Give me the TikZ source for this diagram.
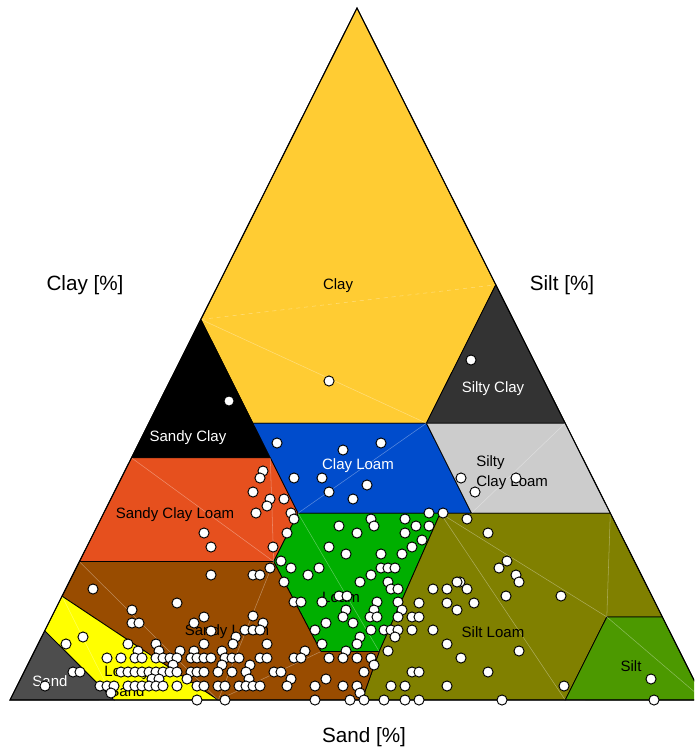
\documentclass[tikz,border=0pt]{standalone}
\usepackage{fontspec}
\setmainfont{Liberation Sans}
\usepackage{tikz}
\usetikzlibrary{positioning}

\definecolor{cClay}{RGB}{255,204,51}
\definecolor{cSiC}{RGB}{51,51,51}
\definecolor{cSC}{RGB}{0,0,0}
\definecolor{cCL}{RGB}{0,76,204}
\definecolor{cSiCL}{RGB}{204,204,204}
\definecolor{cSCL}{RGB}{230,80,30}
\definecolor{cL}{RGB}{0,175,0}
\definecolor{cSiL}{RGB}{128,128,0}
\definecolor{cSL}{RGB}{153,76,0}
\definecolor{cLS}{RGB}{255,255,0}
\definecolor{cS}{RGB}{77,77,77}
\definecolor{cSi}{RGB}{76,153,0}

\tikzset{
  zone/.style={draw=black, line width=0.6pt},
  seam/.style={draw=white, opacity=0.35, line width=0.4pt},
  lbl/.style={font=\fontsize{11.25}{15}\selectfont, inner sep=0pt},
  axislbl/.style={font=\fontsize{15.5}{18}\selectfont, inner sep=0pt},
  obs/.style={draw=black, fill=white, line width=0.7pt}
}

\begin{document}
\begin{tikzpicture}[x=0.75pt, y=-0.75pt]
\clip (0,0) rectangle (694,753);
\coordinate (Sa) at (10,700);
\coordinate (Si) at (704,700);
\coordinate (Cl) at (357,8);
\foreach \n/\a/\b/\c in {B/45/0/55, C/0/40/60, D/45/15/40, E/20/40/40, F/0/60/40,
    G/65/0/35, H/45/20/35, I/45/28/27, J/20/53/27, K/0/73/27, L/80/0/20, M/52/28/20,
    N/51.7/41.3/7, O/43.3/49.7/7, P/24.5/48.5/27, Q/0/88/12, R/8/80/12, S/20/80/0,
    T/49.3/50.7/0, U/70/30/0, V/85/0/15, W/85/15/0, X/90/0/10}
  \coordinate (\n) at (barycentric cs:Sa=\a/100,Si=\b/100,Cl=\c/100);

\filldraw[zone, fill=cClay] (Cl) -- (B) -- (D) -- (E) -- (C) -- cycle;
\filldraw[zone, fill=cSiC] (C) -- (E) -- (F) -- cycle;
\filldraw[zone, fill=cSC] (B) -- (G) -- (H) -- (D) -- cycle;
\filldraw[zone, fill=cCL] (D) -- (H) -- (I) -- (J) -- (E) -- cycle;
\filldraw[zone, fill=cSiCL] (E) -- (J) -- (K) -- (F) -- cycle;
\filldraw[zone, fill=cSCL] (G) -- (L) -- (M) -- (I) -- (H) -- cycle;
\filldraw[zone, fill=cL] (I) -- (M) -- (N) -- (O) -- (P) -- cycle;
\filldraw[zone, fill=cSiL] (P) -- (J) -- (K) -- (Q) -- (R) -- (S) -- (T) -- (O) -- cycle;
\filldraw[zone, fill=cSi] (Q) -- (Si) -- (S) -- (R) -- cycle;
\filldraw[zone, fill=cSL] (L) -- (V) -- (U) -- (T) -- (O) -- (N) -- (M) -- cycle;
\filldraw[zone, fill=cLS] (V) -- (X) -- (W) -- (U) -- cycle;
\filldraw[zone, fill=cS] (X) -- (Sa) -- (W) -- cycle;

\draw[seam, dashed] (B) -- (C);
\draw[seam] (B) -- (E) (E) -- (I) (J) -- (F) (G) -- (M) (H) -- (M) (I) -- (O)
  (P) -- (R) (P) -- (S) (K) -- (R) (R) -- (Si) (L) -- (U) (N) -- (U) (M) -- (U) (V) -- (W);
\draw[line width=0.8pt] (Sa) -- (Si) -- (Cl) -- cycle;

\node[lbl] (clay) at (338,286) {Clay};
\node[lbl, text=white] (siltyclay) at (493,389) {Silty Clay};
\node[lbl, text=white] (sandyclay) at (188,438) {Sandy Clay};
\node[lbl, text=white] (clayloam) at (358,466) {Clay Loam};
\node[lbl, align=left, anchor=west] (siltyclayloam) at (476,473) {Silty\\Clay Loam};
\node[lbl] (sandyclayloam) at (175,515) {Sandy Clay Loam};
\node[lbl] (loam) at (341,597) {Loam};
\node[lbl] (sandyloam) at (227,632) {Sandy Loam};
\node[lbl] (siltloam) at (493,632) {Silt Loam};
\node[lbl] (silt) at (631,666) {Silt};
\node[lbl, align=center] (loamysand) at (127,681) {Loamy\\Sand};
\node[lbl, text=white] (sand) at (50,681) {Sand};

\node[axislbl] (claylbl) at (85,285) {Clay [\%]};
\node[axislbl] (siltlbl) at (562,285) {Silt [\%]};
\node[axislbl] (sandlbl) at (364,737) {Sand [\%]};

\foreach \x/\y in {329/381, 229/401, 471/360,
    277/443, 343/450, 381/443, 294/478, 322/478, 329/492, 367/485, 353/499,
    461/478, 475/492, 516/478, 429/513, 443/513,
    263/471, 260/478, 253/492, 270/499, 267/506, 284/499, 256/513, 291/513, 294/519,
    204/533, 211/547, 287/533, 273/547, 281/561, 270/568, 291/568, 211/575, 253/575,
    260/575, 308/575, 319/568,
    339/526, 371/519, 374/526, 405/519, 416/526, 429/526, 357/533, 405/533, 422/540,
    329/547, 412/547, 346/554, 381/554, 402/554, 381/568, 388/568, 395/568, 371/575,
    360/582, 388/582, 391/589, 398/589, 377/602, 398/602, 284/582, 294/602, 301/602,
    322/602, 339/596, 347/596, 346/610, 374/610, 402/610, 343/617, 353/623, 370/617,
    377/617, 398/617, 326/623, 315/630, 371/630, 384/630, 391/630, 398/630, 395/637,
    360/637, 357/644, 322/644, 346/651, 388/651, 305/651,
    467/519, 488/533, 499/568, 507/561, 516/575, 519/582, 460/582, 467/589, 457/582,
    433/589, 447/589, 474/603, 506/596, 561/596, 419/603, 447/603, 457/610, 412/617,
    419/617, 412/630, 433/630, 447/644, 461/658, 519/651, 488/672, 412/672, 419/672,
    447/686, 391/686, 405/686, 564/686, 502/700, 384/700, 405/700, 419/700,
    651/679, 654/700,
    93/589, 177/603, 132/610, 132/623, 139/623, 194/623, 204/617, 211/631, 253/616,
    263/623, 245/630, 253/630, 260/630, 236/637, 233/644, 267/644, 66/644, 83/637,
    128/644, 156/644, 204/644, 138/651, 159/651, 180/651, 194/651, 222/651,
    107/658, 121/658, 135/658, 142/658, 156/658, 163/658, 170/658, 177/658, 191/658,
    197/658, 204/658, 211/658, 225/658, 232/658, 239/658, 260/658, 267/658, 294/658,
    301/658, 329/658, 343/658, 357/658, 371/658,
    173/665, 222/665, 250/665, 374/665,
    73/672, 80/672, 121/672, 128/672, 135/672, 142/672, 149/672, 156/672, 163/672,
    170/672, 177/672, 191/672, 197/672, 204/672, 218/672, 232/672, 246/672, 274/672,
    281/672, 364/672,
    152/679, 159/679, 187/679, 249/679, 291/679, 326/679,
    45/686, 100/686, 107/686, 114/686, 128/686, 135/686, 142/686, 149/686, 156/686,
    163/686, 177/686, 197/686, 204/686, 218/686, 225/686, 239/686, 246/686, 253/686,
    260/686, 287/686, 315/686, 343/686, 357/686,
    111/693, 360/693,
    197/700, 225/700, 315/700, 350/700, 364/700}
  \filldraw[obs] (\x,\y) circle[radius=3.8pt];
\end{tikzpicture}
\end{document}
